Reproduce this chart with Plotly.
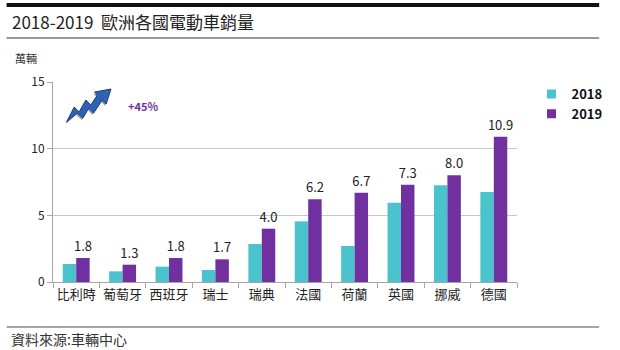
import plotly.graph_objects as go

categories = ["比利時", "葡萄牙", "西班牙", "瑞士", "瑞典", "法國", "荷蘭", "英國", "挪威", "德國"]
sales_2018 = [1.35, 0.8, 1.15, 0.9, 2.85, 4.55, 2.7, 5.95, 7.25, 6.75]
sales_2019 = [1.8, 1.3, 1.8, 1.7, 4.0, 6.2, 6.7, 7.3, 8.0, 10.9]
label_2019 = ["1.8", "1.3", "1.8", "1.7", "4.0", "6.2", "6.7", "7.3", "8.0", "10.9"]
y_ticks = [0, 5, 10, 15]
series_names = ["2018", "2019"]
series_colors = ["#4bc3cd", "#7030a0"]

W, H = 620, 350
L, R, T, B = 53, 87, 82, 68
FONT = "Noto Sans CJK TC, Noto Sans, sans-serif"

def px(x, y):
    return ((x - L) / (W - L - R), (H - B - y) / (H - T - B))

fig = go.Figure()
fig.add_trace(go.Bar(name=series_names[0], x=categories, y=sales_2018, marker_color=series_colors[0],
                     marker_line_width=0, hoverinfo="skip", showlegend=False))
fig.add_trace(go.Bar(name=series_names[1], x=categories, y=sales_2019, marker_color=series_colors[1],
                     marker_line_width=0, text=label_2019, textposition="outside",
                     constraintext="none",
                     textfont=dict(size=13, color="#222222", family=FONT),
                     cliponaxis=False, hoverinfo="skip", showlegend=False))
for n, c in zip(series_names, series_colors):
    fig.add_trace(go.Scatter(name=f"<b>{n}</b>", x=[None], y=[None], mode="markers",
                             marker=dict(symbol="square", size=9, color=c), hoverinfo="skip"))

def poly(points, dx=0, dy=0):
    pts = [px(x + dx, y + dy) for x, y in points]
    return "M " + " L ".join(f"{a:.4f},{b:.4f}" for a, b in pts) + " Z"

arrow = [(67, 122), (75, 107), (80, 112), (87, 100), (92, 105), (99, 95), (96, 92),
         (113, 89), (108, 104), (104, 100), (95, 113), (90, 108), (84, 118), (78, 113)]

shapes = [
    dict(type="path", xref="paper", yref="paper", path=poly(arrow, -1, 2),
         fillcolor="#9a9a9a", line=dict(width=0), layer="above"),
    dict(type="path", xref="paper", yref="paper", path=poly(arrow),
         fillcolor="#2f62b5", line=dict(color="#1d3f7e", width=1), layer="above"),
]
for y0, col, w in [(5, "#111111", 4), (38, "#999999", 2), (327, "#888888", 1.5)]:
    a = px(5, y0); b = px(618, y0)
    shapes.append(dict(type="line", xref="paper", yref="paper", x0=a[0], x1=b[0], y0=a[1], y1=b[1],
                       line=dict(color=col, width=w)))

annotations = [
    dict(text="2018-2019  歐洲各國電動車銷量", xref="paper", yref="paper", x=px(8, 0)[0], y=px(0, 22)[1],
         xanchor="left", yanchor="middle", showarrow=False, font=dict(size=17, color="#222222", family=FONT)),
    dict(text="萬輛", xref="paper", yref="paper", x=px(12, 0)[0], y=px(0, 58)[1],
         xanchor="left", yanchor="middle", showarrow=False, font=dict(size=11, color="#333333", family=FONT)),
    dict(text="<b>+45%</b>", xref="paper", yref="paper", x=px(128, 0)[0], y=px(0, 106)[1],
         xanchor="left", yanchor="middle", showarrow=False, font=dict(size=11, color="#7030a0", family=FONT)),
    dict(text="資料來源:車輛中心", xref="paper", yref="paper", x=px(7, 0)[0], y=px(0, 339)[1],
         xanchor="left", yanchor="middle", showarrow=False, font=dict(size=14, color="#333333", family=FONT)),
]

fig.update_layout(
    width=W, height=H, margin=dict(l=L, r=R, t=T, b=B),
    paper_bgcolor="white", plot_bgcolor="white",
    barmode="group", bargap=0.42, bargroupgap=0,
    font=dict(family=FONT, color="#222222"),
    shapes=shapes, annotations=annotations,
    legend=dict(x=px(548, 0)[0], y=px(0, 79)[1], xanchor="left", yanchor="top",
                font=dict(size=13, color="#111111", family=FONT), itemwidth=30,
                tracegroupgap=0, bgcolor="rgba(0,0,0,0)"),
    xaxis=dict(showline=True, linecolor="#a6a6a6", linewidth=1, ticks="outside", tickson="boundaries",
               ticklen=5, tickcolor="#a6a6a6", tickangle=0, tickfont=dict(size=13, color="#222222"),
               showgrid=False),
    yaxis=dict(range=[0, 15], tickvals=y_ticks, showline=True, linecolor="#a6a6a6", linewidth=1,
               ticks="outside", ticklen=5, tickcolor="#a6a6a6", gridcolor="#c8c8c8", gridwidth=1,
               tickfont=dict(size=12, color="#222222"), zeroline=False),
)

fig.write_html("out.html")
